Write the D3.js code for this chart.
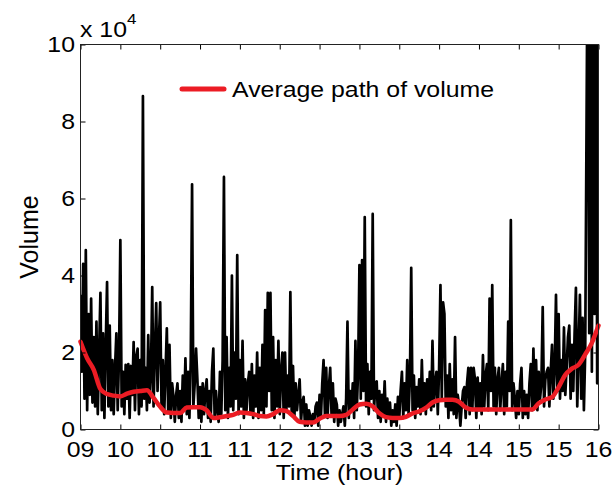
<!DOCTYPE html>
<html>
<head>
<meta charset="utf-8">
<script src="https://cdn.jsdelivr.net/npm/d3@7/dist/d3.min.js"></script>
<style>
  html, body { margin: 0; padding: 0; background: #fff; }
  svg { display: block; }
  text { font-family: Arial, "Liberation Sans", Helvetica, sans-serif; fill: #000; }
</style>
</head>
<body>
<svg id="chart" width="613" height="491"></svg>
<script>
// ---------------- DATA ----------------
// Session: 09:30 -> 16:00, one observation per minute (391 points). Volume in units of 10^4.
const sessionStartLabel = "09:30";
const minutesPerStep = 1;
const volumeE4 = [
  3.5, 1.5, 4.3, 0.8, 4.66, 0.5, 3.0, 0.9, 3.4, 0.7,
  2.4, 0.6, 2.8, 0.4, 2.0, 3.55, 0.5, 2.5, 0.3, 2.2,
  3.83, 0.6, 2.7, 0.5, 1.8, 0.4, 1.6, 2.5, 0.5, 1.9,
  4.92, 0.6, 1.5, 0.4, 1.68, 0.8, 1.7, 0.3, 1.65, 0.9,
  2.27, 0.5, 1.9, 2.1, 0.4, 1.8, 0.6, 8.66, 0.8, 1.6,
  0.5, 2.45, 0.7, 1.4, 3.7, 0.6, 2.0, 3.28, 1.0, 2.3,
  3.3, 0.6, 1.8, 0.4, 1.5, 2.63, 0.5, 2.2, 0.3, 1.2,
  0.85, 0.2, 0.9, 1.2, 0.3, 1.0, 0.2, 1.4, 0.5, 1.85,
  0.4, 1.5, 0.3, 1.8, 6.37, 0.6, 1.2, 2.1, 1.3, 0.3,
  1.1, 0.2, 1.2, 0.4, 1.0, 1.3, 0.3, 1.0, 0.2, 1.5,
  2.1, 0.3, 1.0, 0.5, 0.2, 1.5, 0.4, 1.8, 6.56, 0.5,
  2.4, 0.3, 1.6, 0.6, 4.0, 0.5, 2.0, 0.8, 4.53, 0.4,
  1.8, 0.6, 2.3, 0.3, 1.3, 0.5, 1.2, 1.5, 0.4, 1.7,
  0.3, 1.4, 0.6, 2.0, 0.3, 1.6, 0.5, 2.2, 0.4, 3.1,
  0.6, 3.55, 1.0, 3.55, 0.5, 2.4, 0.3, 1.8, 0.6, 2.3,
  0.4, 1.5, 2.0, 0.3, 2.0, 0.5, 1.4, 0.6, 3.57, 0.4,
  1.65, 0.3, 1.2, 0.5, 0.9, 1.3, 0.2, 0.7, 0.85, 0.1,
  0.65, 0.1, 0.5, 0.35, 0.1, 0.4, 0.2, 0.6, 0.7, 0.1,
  0.9, 0.3, 1.2, 1.8, 0.4, 1.6, 0.3, 1.1, 1.6, 0.4,
  1.2, 0.2, 0.8, 0.65, 0.1, 0.5, 0.2, 0.4, 0.6, 0.1,
  0.8, 2.8, 0.3, 1.0, 0.5, 1.2, 0.3, 2.3, 0.5, 1.5,
  4.27, 0.8, 4.4, 1.0, 5.52, 0.6, 1.7, 0.4, 1.5, 0.8,
  5.6, 0.5, 1.2, 1.25, 0.3, 1.0, 0.2, 0.9, 0.4, 1.25,
  0.2, 0.8, 0.3, 0.7, 0.1, 0.5, 0.2, 0.65, 0.1, 0.85,
  0.3, 1.0, 1.5, 0.3, 1.2, 0.5, 1.8, 0.4, 1.3, 4.2,
  0.5, 1.4, 0.3, 1.1, 0.6, 1.3, 0.4, 1.8, 0.5, 1.2,
  0.4, 1.3, 0.6, 1.5, 0.5, 2.3, 0.6, 1.2, 1.5, 0.4,
  1.6, 3.75, 0.8, 3.3, 3.0, 0.6, 1.4, 0.3, 1.7, 0.5,
  1.3, 0.4, 2.4, 0.3, 0.9, 0.65, 0.1, 0.6, 1.0, 1.1,
  0.3, 1.2, 1.6, 0.4, 1.6, 0.5, 1.6, 1.3, 0.3, 1.35,
  0.5, 1.2, 0.4, 1.93, 0.6, 1.4, 1.7, 0.5, 3.4, 1.0,
  3.75, 0.6, 1.6, 0.4, 1.3, 1.6, 0.5, 1.2, 1.7, 0.4,
  1.5, 0.6, 2.8, 1.0, 5.44, 0.5, 1.2, 0.8, 0.3, 1.0,
  0.4, 1.2, 1.6, 0.3, 1.0, 0.4, 0.9, 0.3, 1.2, 1.7,
  0.5, 2.1, 0.6, 1.8, 0.5, 1.5, 0.8, 1.2, 3.18, 0.6,
  1.3, 1.5, 1.6, 0.6, 1.5, 2.2, 0.8, 1.6, 3.5, 1.0,
  3.0, 0.8, 1.8, 1.0, 2.65, 0.9, 1.6, 2.4, 2.7, 0.8,
  2.2, 1.0, 2.5, 3.68, 0.6, 2.0, 3.5, 0.8, 2.9, 0.5,
  2.0, 7.96, 14, 2.5, 15, 1.5, 14, 3.0, 15, 1.2, 16
];

// Average path of volume, sampled every 5 minutes from 09:30 (units of 10^4)
const avgStepMinutes = 5;
const averageE4 = [
  2.28, 1.85, 1.55, 1.05, 0.92, 0.88, 0.86, 0.93, 0.98, 1.0,
  1.02, 0.82, 0.59, 0.44, 0.43, 0.43, 0.57, 0.58, 0.58, 0.5,
  0.3, 0.32, 0.35, 0.38, 0.44, 0.43, 0.4, 0.35, 0.34, 0.4,
  0.5, 0.48, 0.35, 0.2, 0.18, 0.18, 0.28, 0.35, 0.35, 0.35,
  0.38, 0.52, 0.65, 0.67, 0.6, 0.42, 0.32, 0.3, 0.3, 0.33,
  0.42, 0.47, 0.56, 0.7, 0.76, 0.77, 0.77, 0.72, 0.57, 0.52,
  0.52, 0.52, 0.52, 0.52, 0.52, 0.52, 0.52, 0.52, 0.52, 0.68,
  0.78, 0.84, 1.1, 1.42, 1.58, 1.68, 1.95, 2.25, 2.7
];

// Axis ticks
const xTickMinutes = [0, 30, 60, 90, 120, 150, 180, 210, 240, 270, 300, 330, 360, 390];
const xTickLabels  = ["09","10","10","11","11","12","12","13","13","14","14","15","15","16"];
const yTickValues  = [0, 2, 4, 6, 8, 10];
const yTickLabels  = ["0","2","4","6","8","10"];
const legendLabel = "Average path of volume";
const xAxisTitle = "Time (hour)";
const yAxisTitle = "Volume";

// ---------------- LAYOUT ----------------
const M = { left: 80.5, right: 598.5, top: 44.5, bottom: 429.5 };
const HS = 1.13; // horizontal text stretch seen in the reference

const svg = d3.select("#chart");

const sessionMinutes = (volumeE4.length - 1) * minutesPerStep;
const x = d3.scaleLinear().domain([0, sessionMinutes]).range([M.left, M.right]);
const y = d3.scaleLinear().domain([0, 10]).range([M.bottom, M.top]);

svg.append("defs").append("clipPath").attr("id", "plotclip")
  .append("rect")
  .attr("x", M.left).attr("y", M.top)
  .attr("width", M.right - M.left).attr("height", M.bottom - M.top);

const plot = svg.append("g").attr("clip-path", "url(#plotclip)");

// volume series
const volLine = d3.line()
  .x((d, i) => x(i * minutesPerStep))
  .y(d => y(d));
plot.append("path")
  .datum(volumeE4)
  .attr("d", volLine)
  .attr("fill", "none")
  .attr("stroke", "#000")
  .attr("stroke-width", 2.7)
  .attr("stroke-linejoin", "round");

// average path
const avgLine = d3.line()
  .x((d, i) => x(i * avgStepMinutes))
  .y(d => y(d))
  .curve(d3.curveMonotoneX);
svg.append("path")
  .datum(averageE4)
  .attr("d", avgLine)
  .attr("fill", "none")
  .attr("stroke", "#ec1c24")
  .attr("stroke-width", 4.5)
  .attr("stroke-linejoin", "round")
  .attr("stroke-linecap", "round");

// ---------------- AXES (MATLAB style box, inward ticks) ----------------
const tickLen = 5;
const xAxisBottom = d3.axisBottom(x).tickValues(xTickMinutes)
  .tickSizeInner(-tickLen).tickSizeOuter(0).tickFormat("");
const xAxisTop = d3.axisTop(x).tickValues(xTickMinutes)
  .tickSizeInner(-tickLen).tickSizeOuter(0).tickFormat("");
const yAxisLeft = d3.axisLeft(y).tickValues(yTickValues)
  .tickSizeInner(-tickLen).tickSizeOuter(0).tickFormat("");
const yAxisRight = d3.axisRight(y).tickValues(yTickValues)
  .tickSizeInner(-tickLen).tickSizeOuter(0).tickFormat("");

function styleAxis(g) {
  g.select(".domain").remove();
  g.selectAll(".tick line").attr("stroke", "#000").attr("stroke-width", 1);
}
svg.append("g").attr("transform", `translate(0,${M.bottom})`).call(xAxisBottom).call(styleAxis);
svg.append("g").attr("transform", `translate(0,${M.top})`).call(xAxisTop).call(styleAxis);
svg.append("g").attr("transform", `translate(${M.left},0)`).call(yAxisLeft).call(styleAxis);
svg.append("g").attr("transform", `translate(${M.right},0)`).call(yAxisRight).call(styleAxis);

svg.append("rect")
  .attr("x", M.left).attr("y", M.top)
  .attr("width", M.right - M.left).attr("height", M.bottom - M.top)
  .attr("fill", "none").attr("stroke", "#222").attr("stroke-width", 1);

// tick labels
const fs = 22;
svg.append("g").selectAll("text")
  .data(xTickMinutes)
  .join("text")
  .attr("transform", d => `translate(${x(d)},457) scale(${HS},1)`)
  .attr("text-anchor", "middle")
  .attr("font-size", fs)
  .text((d, i) => xTickLabels[i]);

svg.append("g").selectAll("text")
  .data(yTickValues)
  .join("text")
  .attr("transform", d => `translate(75,${y(d) + 7.8}) scale(${HS},1)`)
  .attr("text-anchor", "end")
  .attr("font-size", fs)
  .text((d, i) => yTickLabels[i]);

// exponent "x 10^4"
const expo = svg.append("text")
  .attr("transform", `translate(80,37) scale(${HS},1)`)
  .attr("font-size", fs);
expo.append("tspan").text("x 10");
expo.append("tspan").attr("dy", -13).attr("font-size", 15).text("4");

// axis titles
svg.append("text")
  .attr("transform", `translate(${(M.left + M.right) / 2},480) scale(${HS},1)`)
  .attr("text-anchor", "middle")
  .attr("font-size", fs)
  .text(xAxisTitle);

svg.append("text")
  .attr("transform", `translate(38,${(M.top + M.bottom) / 2}) rotate(-90)`)
  .attr("text-anchor", "middle")
  .attr("font-size", 25)
  .text(yAxisTitle);

// legend
const lg = svg.append("g");
lg.append("line")
  .attr("x1", 182).attr("x2", 224).attr("y1", 89).attr("y2", 89)
  .attr("stroke", "#ec1c24").attr("stroke-width", 5).attr("stroke-linecap", "round");
lg.append("text")
  .attr("transform", `translate(232,97) scale(${HS},1)`)
  .attr("font-size", fs)
  .text(legendLabel);
</script>
</body>
</html>
